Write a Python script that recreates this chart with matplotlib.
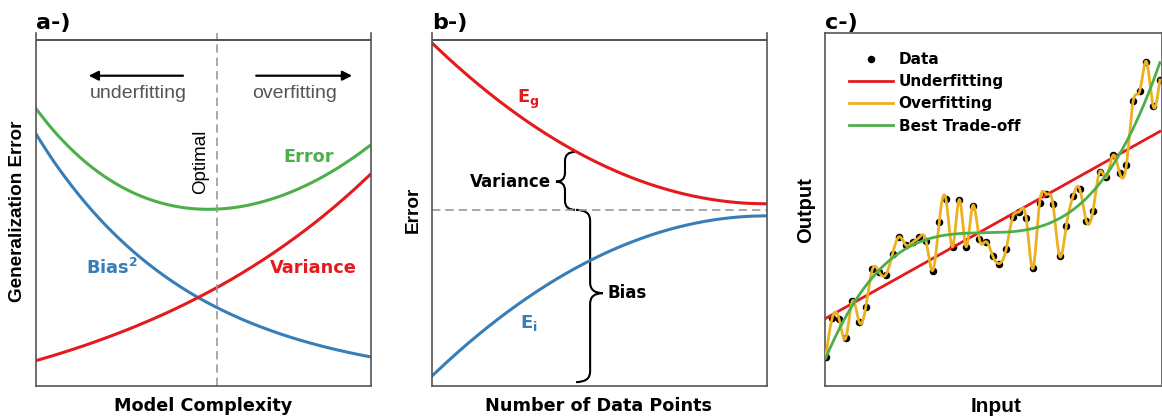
import numpy as np
import matplotlib.pyplot as plt
from matplotlib.path import Path
from matplotlib.patches import PathPatch

# ---- panel a: bias / variance vs model complexity (0-100 error scale)
complexity = [0.0, 0.05, 0.1, 0.15, 0.2, 0.25, 0.3, 0.35, 0.4, 0.45, 0.5,
              0.55, 0.6, 0.65, 0.7, 0.75, 0.8, 0.85, 0.9, 0.95, 1.0]
bias_sq = [71.36, 64.05, 57.50, 51.61, 46.32, 41.58, 37.32, 33.50, 30.07, 26.98, 24.22,
           21.75, 19.52, 17.52, 15.73, 14.11, 12.67, 11.37, 10.21, 9.16, 8.22]
variance = [7.18, 8.58, 10.07, 11.64, 13.33, 15.11, 17.00, 19.02, 21.15, 23.43, 25.85,
            28.41, 31.14, 34.05, 37.13, 40.41, 43.89, 47.58, 51.51, 55.69, 60.11]
gen_error = [78.54, 72.63, 67.57, 63.25, 59.65, 56.69, 54.32, 52.52, 51.22, 50.41, 50.07,
             50.16, 50.66, 51.57, 52.86, 54.52, 56.56, 58.95, 61.72, 64.85, 68.33]
optimal_x = 0.539

# ---- panel b: learning curves vs number of data points
n_points = complexity
e_g = [97.16, 92.72, 88.51, 84.52, 80.76, 77.23, 73.93, 70.85, 68.01, 65.39, 63.00,
       60.83, 58.89, 57.18, 55.71, 54.45, 53.43, 52.63, 52.06, 51.72, 51.61]
e_i = [2.84, 7.26, 11.46, 15.43, 19.17, 22.68, 25.97, 29.04, 31.87, 34.48, 36.86,
       39.02, 40.94, 42.65, 44.12, 45.37, 46.39, 47.18, 47.75, 48.09, 48.20]
asymptote = 49.9

# ---- panel c: noisy data
data_y = [8.1, 19.4, 19.0, 13.5, 24.1, 18.2, 22.3, 33.1, 32.3, 31.5,
          37.4, 42.3, 39.9, 40.7, 42.1, 41.2, 32.7, 46.6, 52.9, 39.5,
          52.8, 39.5, 51.1, 41.6, 40.9, 36.8, 34.7, 38.7, 47.9, 49.4,
          47.7, 33.3, 51.8, 54.4, 51.6, 36.8, 45.3, 53.7, 55.9, 46.7,
          49.7, 60.7, 59.1, 65.4, 60.3, 62.6, 80.6, 83.6, 91.9, 79.3,
          86.7]

RED = '#e41a1c'
BLUE = '#377eb8'
GREEN = '#4daf4a'
ORANGE = '#edb120'
SPINE = '#555555'
W, H = 1162, 417


def natural_spline(x, y, xs):
    x = np.asarray(x, float)
    y = np.asarray(y, float)
    n = len(x)
    h = np.diff(x)
    A = np.zeros((n, n))
    r = np.zeros(n)
    A[0, 0] = A[-1, -1] = 1
    for i in range(1, n - 1):
        A[i, i - 1] = h[i - 1]
        A[i, i] = 2 * (h[i - 1] + h[i])
        A[i, i + 1] = h[i]
        r[i] = 3 * ((y[i + 1] - y[i]) / h[i] - (y[i] - y[i - 1]) / h[i - 1])
    c = np.linalg.solve(A, r)
    b = (y[1:] - y[:-1]) / h - h * (2 * c[:-1] + c[1:]) / 3
    d = (c[1:] - c[:-1]) / (3 * h)
    idx = np.clip(np.searchsorted(x, xs) - 1, 0, n - 2)
    dx = xs - x[idx]
    return y[idx] + b[idx] * dx + c[idx] * dx ** 2 + d[idx] * dx ** 3


def smooth_plot(ax, x, y, **kw):
    xs = np.linspace(x[0], x[-1], 400)
    ax.plot(xs, natural_spline(x, y, xs), **kw)


def brace(ax, x, y0, y1, ym, tip, end, r):
    verts = [(x + end, y1), (x, y1), (x, y1 - r), (x, ym + r), (x, ym),
             (x + tip, ym), (x, ym), (x, ym - r), (x, y0 + r), (x, y0),
             (x + end, y0)]
    codes = [Path.MOVETO, Path.CURVE3, Path.CURVE3, Path.LINETO, Path.CURVE3,
             Path.CURVE3, Path.CURVE3, Path.CURVE3, Path.LINETO, Path.CURVE3,
             Path.CURVE3]
    ax.add_patch(PathPatch(Path(verts, codes), fill=False, lw=1.5, color='black'))


def style_axes(ax, open_top):
    ax.set_xticks([])
    ax.set_yticks([])
    for s in ax.spines.values():
        s.set_color(SPINE)
        s.set_linewidth(1.2)
    if open_top:
        ax.spines['top'].set_visible(False)
        ax.axhline(97.9, color='#333333', lw=1.2)


fig = plt.figure(figsize=(W / 100, H / 100), dpi=100)

# ================= panel a
ax = fig.add_axes([36 / W, 31 / H, 335 / W, 353 / H])
smooth_plot(ax, complexity, gen_error, color=GREEN, lw=2.2)
smooth_plot(ax, complexity, bias_sq, color=BLUE, lw=2.2)
smooth_plot(ax, complexity, variance, color=RED, lw=2.2)
ax.axvline(optimal_x, color='#999999', lw=1.2, ls=(0, (5, 3)))
ax.set_xlim(0, 1)
ax.set_ylim(0, 100)
style_axes(ax, True)
ax.annotate('', xy=(0.149, 87.9), xytext=(0.447, 87.9),
            arrowprops=dict(arrowstyle='-|>', lw=1.6, color='black', mutation_scale=14))
ax.annotate('', xy=(0.952, 87.9), xytext=(0.649, 87.9),
            arrowprops=dict(arrowstyle='-|>', lw=1.6, color='black', mutation_scale=14))
ax.text(0.304, 83.0, 'underfitting', ha='center', va='center', fontsize=14,
        family='Liberation Sans', color='#555555')
ax.text(0.773, 83.0, 'overfitting', ha='center', va='center', fontsize=14,
        family='Liberation Sans', color='#555555')
ax.text(0.49, 63.4, 'Optimal', rotation=90, ha='center', va='center',
        fontsize=13.5, family='Liberation Sans')
ax.text(0.813, 64.8, 'Error', color=GREEN, ha='center', va='center',
        fontsize=12.8, fontweight='bold')
ax.text(0.827, 33.4, 'Variance', color=RED, ha='center', va='center',
        fontsize=12.8, fontweight='bold')
ax.text(0.228, 33.4, r'$\mathbf{Bias^2}$', color=BLUE, ha='center', va='center',
        fontsize=12.8)

# ================= panel b
ax = fig.add_axes([432 / W, 31 / H, 335 / W, 353 / H])
smooth_plot(ax, n_points, e_g, color=RED, lw=2.2)
smooth_plot(ax, n_points, e_i, color=BLUE, lw=2.2)
ax.axhline(asymptote, color='#999999', lw=1.2, ls=(0, (5, 3)))
ax.set_xlim(0, 1)
ax.set_ylim(0, 100)
style_axes(ax, True)
brace(ax, 0.397, asymptote, 66.3, 57.9, -0.027, 0.03, 2.5)
brace(ax, 0.472, 1.1, asymptote, 26.3, 0.038, -0.042, 3.0)
ax.text(0.355, 57.9, 'Variance', ha='right', va='center', fontsize=12, fontweight='bold')
ax.text(0.525, 26.3, 'Bias', ha='left', va='center', fontsize=12, fontweight='bold')
ax.text(0.253, 80.2, r'$\mathbf{E_g}$', color=RED, ha='left', va='baseline', fontsize=13)
ax.text(0.263, 16.3, r'$\mathbf{E_i}$', color=BLUE, ha='left', va='baseline', fontsize=13)

# ================= panel c
ax = fig.add_axes([825 / W, 31 / H, 336.5 / W, 353 / H])
x = np.arange(len(data_y), dtype=float)
y = np.array(data_y)
xs = np.linspace(x[0], x[-1], 1500)
lin = np.polyval(np.polyfit(x, y, 1), xs)
cub = np.polyval(np.polyfit(x, y, 3), xs)
ax.plot(x, y, 'o', color='black', ms=4.4, zorder=2, label='Data')
ax.plot(xs, lin, color=RED, lw=2, zorder=3, label='Underfitting')
ax.plot(xs, natural_spline(x, y, xs), color=ORANGE, lw=2, zorder=4, label='Overfitting')
ax.plot(xs, cub, color=GREEN, lw=2, zorder=5, label='Best Trade-off')
ax.set_xlim(-0.1, 50.25)
ax.set_ylim(0, 100)
style_axes(ax, False)
ax.legend(loc='upper left', bbox_to_anchor=(0.071, 0.946), frameon=False,
          borderpad=0, borderaxespad=0, handlelength=2.9, handletextpad=0.35,
          labelspacing=0.47, numpoints=1, prop=dict(weight='bold', size=11))

# ================= labels
bold_l = dict(family='Liberation Sans', fontweight='bold')
fig.text(17.5 / W, 1 - 211 / H, 'Generalization Error', rotation=90, ha='center',
         va='center', fontsize=13.6, **bold_l)
fig.text(413.5 / W, 1 - 210 / H, 'Error', rotation=90, ha='center', va='center',
         fontsize=13.7, **bold_l)
fig.text(806 / W, 1 - 210 / H, 'Output', rotation=90, ha='center', va='center',
         fontsize=14.5, **bold_l)
fig.text(203.5 / W, 1 - 406 / H, 'Model Complexity', ha='center', va='center',
         fontsize=12.7, fontweight='bold')
fig.text(598 / W, 1 - 406 / H, 'Number of Data Points', ha='center', va='center',
         fontsize=12.7, fontweight='bold')
fig.text(996 / W, 1 - 397 / H, 'Input', ha='center', va='top', fontsize=15, **bold_l)
for px, lab in [(36, 'a-)'), (432, 'b-)'), (825, 'c-)')]:
    fig.text(px / W, 1 - 29 / H, lab, ha='left', va='baseline', fontsize=16,
             fontweight='bold')

fig.savefig('out.png', dpi=100)
